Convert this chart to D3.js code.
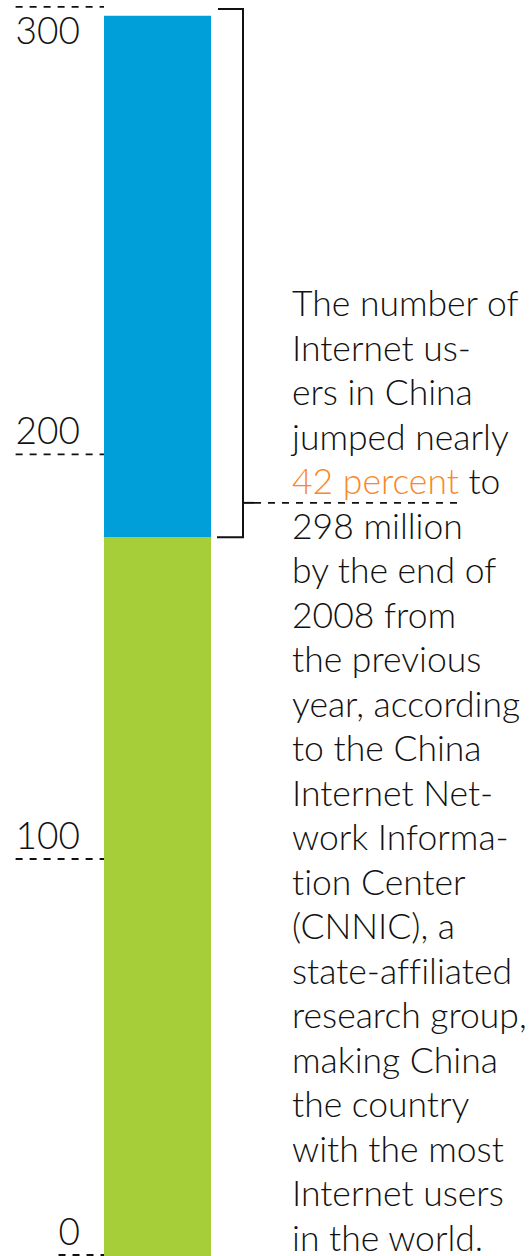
<!DOCTYPE html>
<html>
<head>
<meta charset="utf-8">
<script src="https://cdn.jsdelivr.net/npm/d3@7"></script>
<style>
  html, body { margin: 0; padding: 0; background: #fff; }
  svg { display: block; }
  text { font-family: Lato, "Open Sans", sans-serif; font-weight: 300; font-variant-ligatures: none; }
</style>
</head>
<body>
<svg id="chart" width="529" height="1256"></svg>
<script>
// ---- data ----
const categories = ["China"];
const previousYear = [179.5];   // green segment (million users)
const increase = [118.5];       // blue segment, total 298
const tickValues = [0, 100, 200, 300];
const tickLabels = ["0", "100", "200", "300"];
const bracketRange = [179.5, 299.5];
const bracketPointer = [188];
const noteLines = [
  "The number of",
  "Internet us-",
  "ers in China",
  "jumped nearly",
  "{42 percent} to",
  "298 million",
  "by the end of",
  "2008 from",
  "the previous",
  "year, according",
  "to the China",
  "Internet Net-",
  "work Informa-",
  "tion Center",
  "(CNNIC), a",
  "state-affiliated",
  "research group,",
  "making China",
  "the country",
  "with the most",
  "Internet users",
  "in the world."
];

// ---- styles ----
const BLUE = "#009fda", GREEN = "#a6ce39", ORANGE = "#f7892b", INK = "#111";

const svg = d3.select("#chart");

// The printed axis is not evenly spaced; map each tick to its printed position.
const y = d3.scaleLinear().domain([0, 100, 200, 300]).range([1255, 859, 454.3, 6.8]);
const x = d3.scaleBand().domain(categories).range([104, 211]).padding(0);

const stacked = categories.map((c, i) => ([
  { cat: c, y0: 0, y1: previousYear[i], color: GREEN },
  { cat: c, y0: previousYear[i], y1: previousYear[i] + increase[i], color: BLUE }
])).flat();

svg.append("g").selectAll("rect").data(stacked).join("rect")
  .attr("x", d => x(d.cat))
  .attr("width", x.bandwidth())
  .attr("y", d => y(d.y1))
  .attr("height", d => y(d.y0) - y(d.y1) + (d.y0 === 0 ? 5 : 0))
  .attr("fill", d => d.color);

// axis ticks: label + dashed leader to the bar
const tickG = svg.append("g").selectAll("g").data(tickValues).join("g");
tickG.append("text")
  .attr("x", 80)
  .attr("y", d => { const p = y(d); return p - 10 < 40 ? p + 37 : p - 10; })
  .attr("text-anchor", "end")
  .attr("font-size", 37)
  .attr("fill", INK)
  .text((d, i) => tickLabels[i])
  .each(function(d) {
    const bb = this.getBBox();
    d3.select(this.parentNode).append("line")
      .attr("x1", bb.x).attr("x2", x.range()[0])
      .attr("y1", y(d)).attr("y2", y(d))
      .attr("stroke", INK).attr("stroke-width", 1.8)
      .attr("stroke-dasharray", "7,7");
  });

// bracket
const bx = 243, bLeft = 218;
const bTop = y(bracketRange[1]), bBot = y(bracketRange[0]);
svg.append("path")
  .attr("d", `M${bLeft},${bTop} H${bx} V${bBot} H${bLeft - 1}`)
  .attr("fill", "none").attr("stroke", INK).attr("stroke-width", 2);
const py = y(bracketPointer[0]);
svg.append("line")
  .attr("x1", bx).attr("x2", 254).attr("y1", py).attr("y2", py)
  .attr("stroke", INK).attr("stroke-width", 2);
svg.append("line")
  .attr("x1", 254).attr("x2", 458).attr("y1", py).attr("y2", py)
  .attr("stroke", INK).attr("stroke-width", 1.8)
  .attr("stroke-dasharray", "7,7");

// note text
const note = svg.append("text")
  .attr("x", 292).attr("y", 316)
  .attr("font-size", 35.5).attr("fill", INK);
noteLines.forEach((line, i) => {
  const parts = line.split(/(\{[^}]*\})/).filter(s => s.length);
  parts.forEach((p, j) => {
    const hl = p.startsWith("{");
    const t = note.append("tspan")
      .attr("fill", hl ? ORANGE : INK)
      .text(hl ? p.slice(1, -1) : p);
    if (j === 0) t.attr("x", 292).attr("y", 316 + i * 44.5);
  });
});
</script>
</body>
</html>
